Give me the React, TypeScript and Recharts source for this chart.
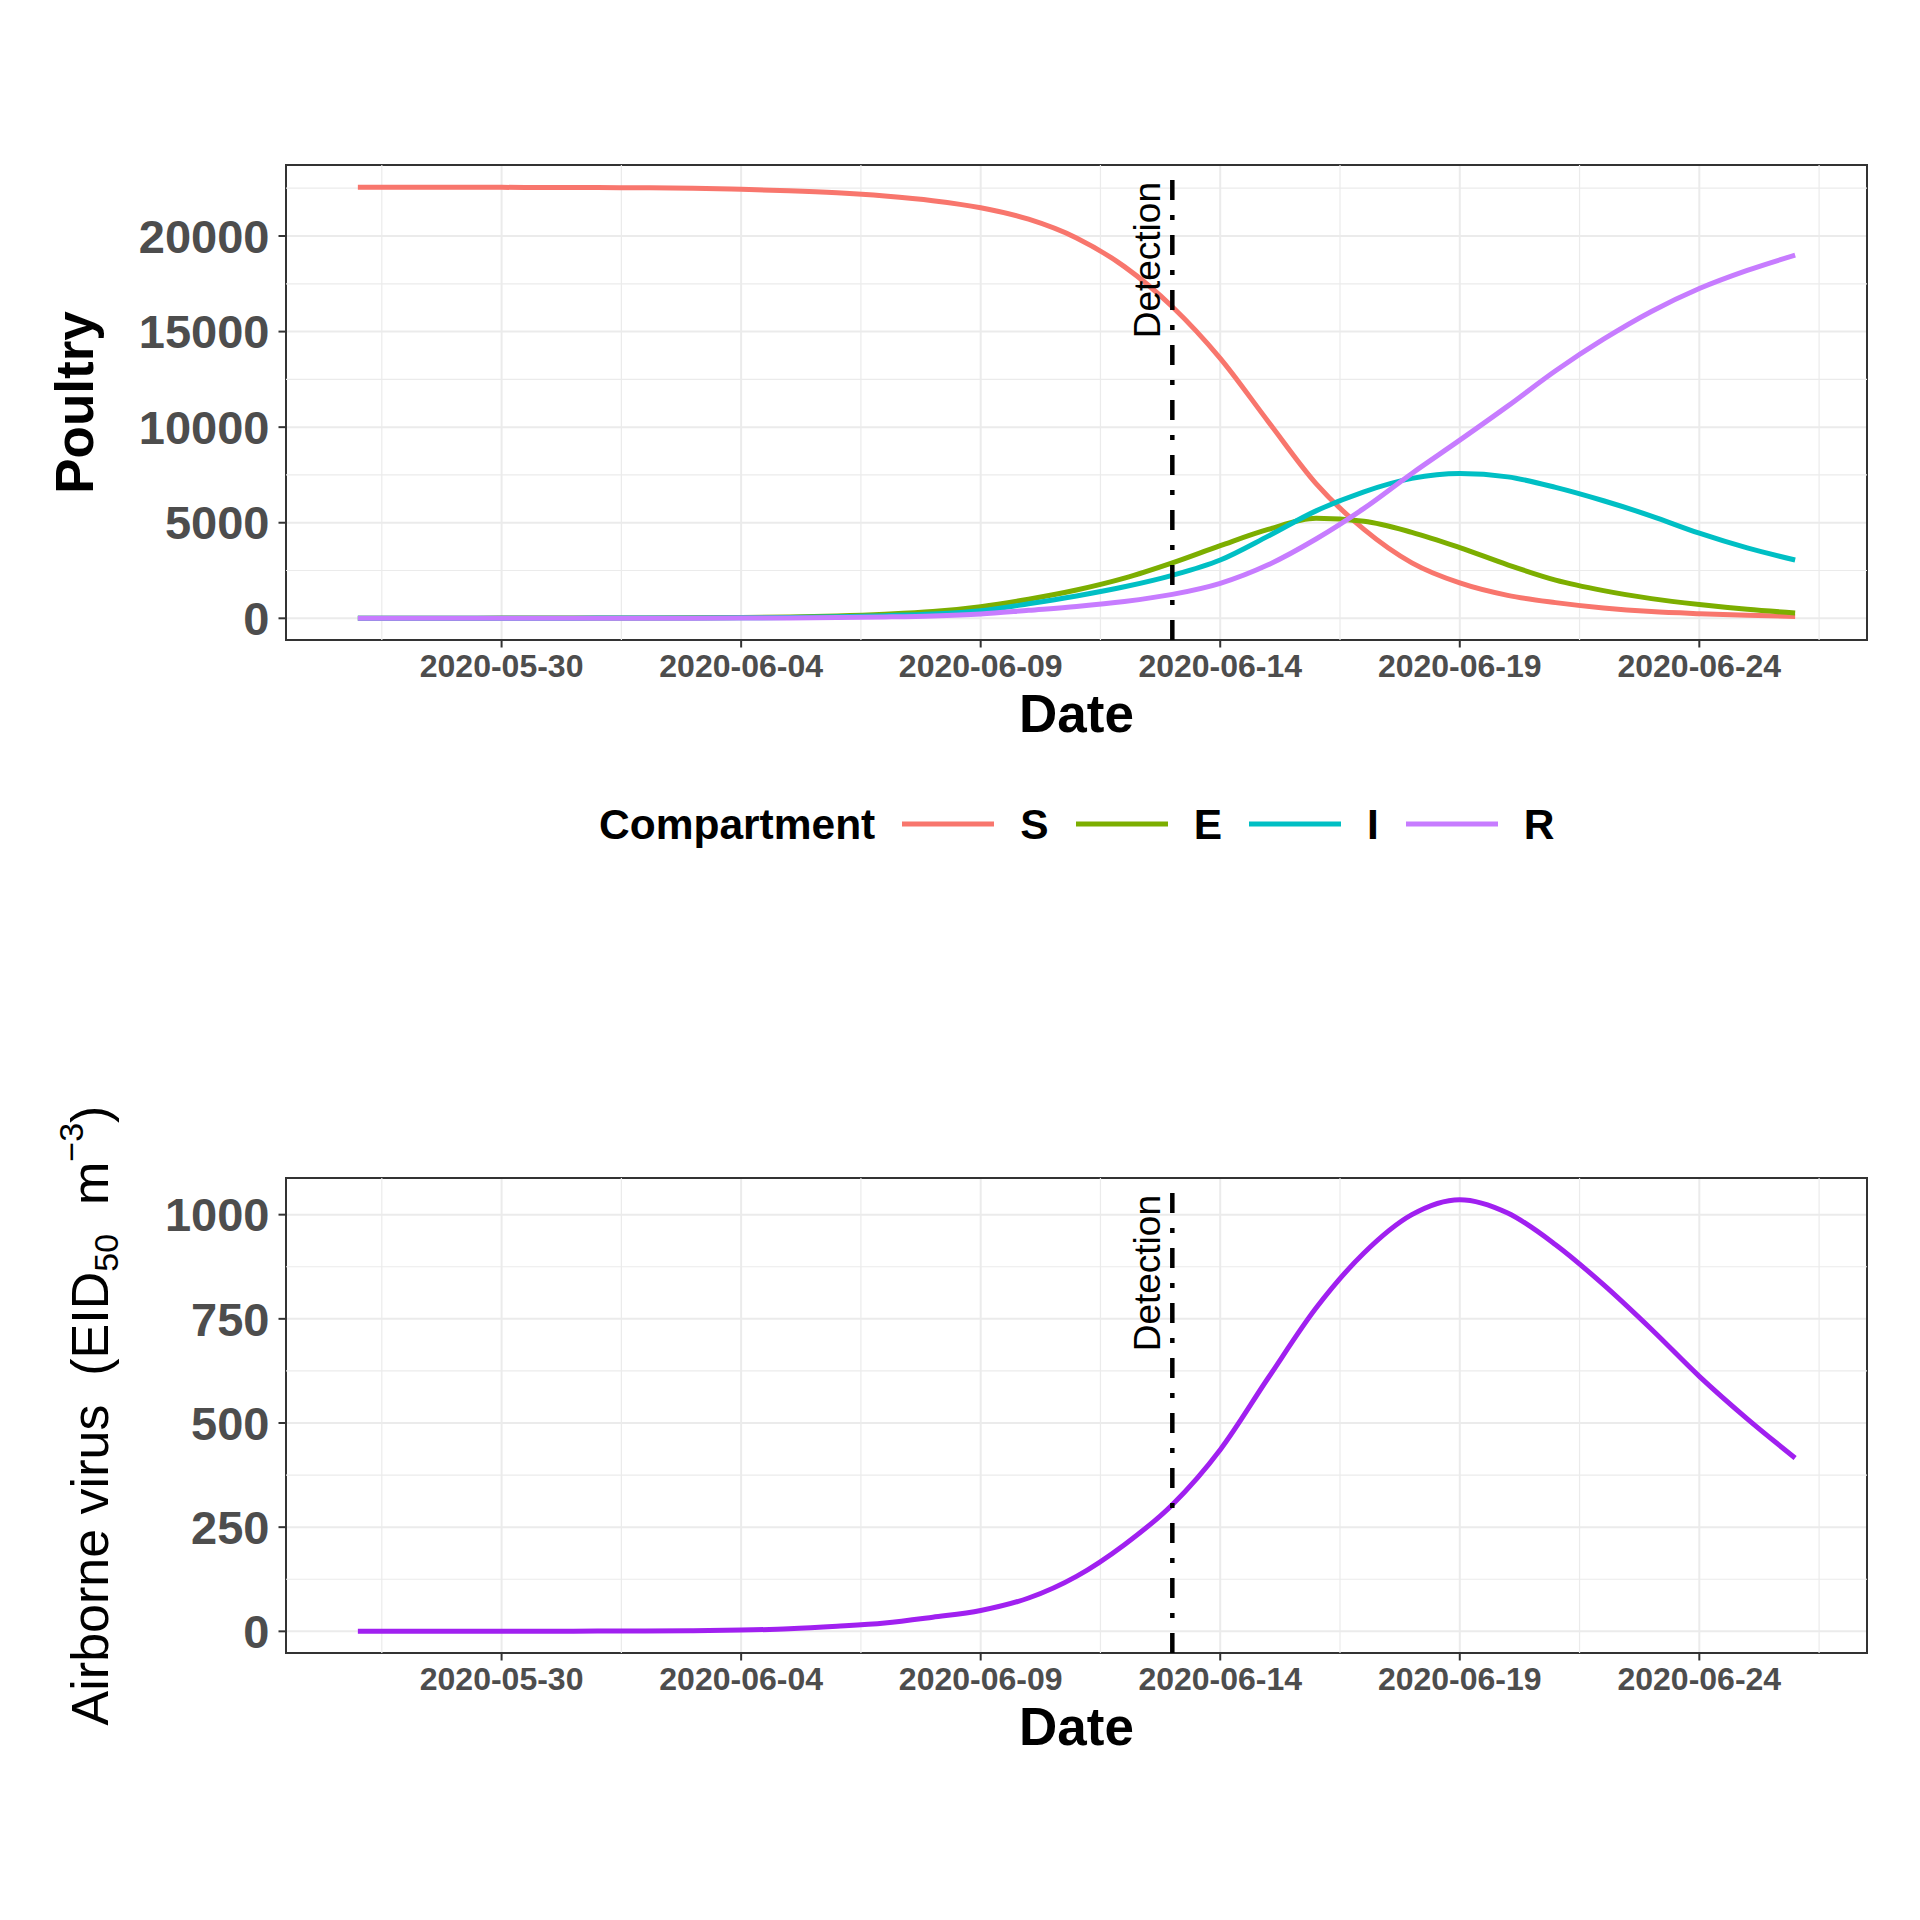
import { CartesianGrid, Line, LineChart, ReferenceArea, ReferenceLine, XAxis, YAxis } from 'recharts';

const FONT = '"Liberation Sans", Arial, Helvetica, sans-serif';

const dates = [
  '2020-05-27', '2020-05-28', '2020-05-29', '2020-05-30', '2020-05-31',
  '2020-06-01', '2020-06-02', '2020-06-03', '2020-06-04', '2020-06-05',
  '2020-06-06', '2020-06-07', '2020-06-08', '2020-06-09', '2020-06-10',
  '2020-06-11', '2020-06-12', '2020-06-13', '2020-06-14', '2020-06-15',
  '2020-06-16', '2020-06-17', '2020-06-18', '2020-06-19', '2020-06-20',
  '2020-06-21', '2020-06-22', '2020-06-23', '2020-06-24', '2020-06-25',
  '2020-06-26',
];

const susceptible = [
  22550, 22549, 22547, 22545, 22541, 22534, 22522, 22495, 22440, 22370,
  22260, 22090, 21850, 21480, 20880, 19900, 18400, 16300, 13600, 10300,
  7050, 4650, 2900, 1850, 1200, 820, 540, 350, 240, 160, 100,
];
const exposed = [
  5, 6, 8, 10, 13, 17, 22, 30, 40, 70,
  120, 210, 350, 610, 1000, 1480, 2100, 2900, 3800, 4650,
  5230, 5080, 4500, 3700, 2800, 2000, 1450, 1030, 720, 470, 280,
];
const infectious = [
  2, 3, 4, 5, 7, 10, 13, 18, 25, 45,
  80, 140, 225, 400, 760, 1170, 1650, 2250, 3050, 4300,
  5620, 6620, 7320, 7580, 7400, 6850, 6150, 5350, 4450, 3680, 3050,
];
const recovered = [
  0, 0, 1, 1, 2, 3, 4, 6, 10, 20,
  40, 70, 120, 225, 420, 620, 880, 1250, 1830, 2800,
  4150, 5750, 7580, 9320, 11100, 12950, 14600, 16050, 17250, 18200, 19000,
];
const airborneVirus = [
  0, 0, 0, 0.2, 0.4, 0.6, 1, 1.5, 3, 6,
  12, 20, 34, 50, 80, 132, 208, 304, 436, 608,
  776, 908, 1000, 1036, 1004, 928, 832, 725, 612, 510, 416,
];

const dayTicks = [3, 8, 13, 18, 23, 28];
const dayMinor = [0.5, 5.5, 10.5, 15.5, 20.5, 25.5, 30.5];
const poultryTicks = [0, 5000, 10000, 15000, 20000];
const poultryMinor = [2500, 7500, 12500, 17500, 22500];
const virusTicks = [0, 250, 500, 750, 1000];
const virusMinor = [125, 375, 625, 875];
const detectionDay = 17;

const compartments = [
  { key: 'S', color: '#F8766D' },
  { key: 'E', color: '#7CAE00' },
  { key: 'I', color: '#00BFC4' },
  { key: 'R', color: '#C77CFF' },
];

const dayDomain: [number, number] = [-1.5, 31.5];
const poultryDomain: [number, number] = [-1135, 23715];
const virusDomain: [number, number] = [-52, 1088];

const poultryData = dates.map((date, i) => ({
  day: i,
  date,
  S: susceptible[i],
  E: exposed[i],
  I: infectious[i],
  R: recovered[i],
}));

const virusData = dates.map((date, i) => ({ day: i, date, virus: airborneVirus[i] }));

function detectionLabel({ viewBox }: any) {
  const x = viewBox.x - 12.5;
  const y = viewBox.y + 17;
  return (
    <text x={x} y={y} transform={`rotate(-90 ${x} ${y})`} textAnchor="end" fontSize={37} fill="#000" fontFamily={FONT}>
      Detection
    </text>
  );
}

function dateTitle({ viewBox }: any) {
  return (
    <text x={viewBox.x + viewBox.width / 2} y={viewBox.y + 92} textAnchor="middle" fontSize={53} fontWeight={700} fill="#000" fontFamily={FONT}>
      Date
    </text>
  );
}

function poultryTitle({ viewBox }: any) {
  const x = viewBox.x + 93;
  const y = viewBox.y + viewBox.height / 2;
  return (
    <text x={x} y={y} transform={`rotate(-90 ${x} ${y})`} textAnchor="middle" fontSize={53} fontWeight={700} fill="#000" fontFamily={FONT}>
      Poultry
    </text>
  );
}

function virusTitle({ viewBox }: any) {
  const x = viewBox.x + 108;
  const y = viewBox.y + viewBox.height / 2;
  return (
    <text x={x} y={y} transform={`rotate(-90 ${x} ${y})`} textAnchor="middle" fontSize={52} fill="#000" fontFamily={FONT}>
      {'Airborne virus\u00A0\u00A0(EID'}
      <tspan fontSize={34} dy={10}>50</tspan>
      <tspan dy={-10}>{'\u00A0\u00A0m'}</tspan>
      <tspan fontSize={34} dy={-25}>{'\u22123'}</tspan>
      <tspan dy={25}>)</tspan>
    </text>
  );
}

interface PanelProps {
  data: Array<Record<string, number | string>>;
  series: Array<{ key: string; color: string }>;
  yDomain: [number, number];
  yTicks: number[];
  yMinor: number[];
  yTitle: (props: any) => JSX.Element;
}

function Panel({ data, series, yDomain, yTicks, yMinor, yTitle }: PanelProps) {
  return (
    <LineChart width={1920} height={760} data={data} margin={{ top: 165, right: 53, bottom: 0, left: 0 }}>
      <CartesianGrid stroke="#EBEBEB" strokeWidth={2} />
      {dayMinor.map((d) => (
        <ReferenceLine key={`vx${d}`} x={d} stroke="#EBEBEB" strokeWidth={1.2} />
      ))}
      {yMinor.map((v) => (
        <ReferenceLine key={`hy${v}`} y={v} stroke="#EBEBEB" strokeWidth={1.2} />
      ))}
      <XAxis
        type="number"
        dataKey="day"
        domain={dayDomain}
        allowDataOverflow
        ticks={dayTicks}
        interval={0}
        tickFormatter={(v: number) => dates[v]}
        height={120}
        axisLine={false}
        tickSize={7.5}
        tickMargin={7}
        tickLine={{ stroke: '#333333', strokeWidth: 2 }}
        tick={{ fill: '#4D4D4D', fontSize: 32, fontWeight: 700, fontFamily: FONT }}
        label={dateTitle}
      />
      <YAxis
        type="number"
        domain={yDomain}
        allowDataOverflow
        ticks={yTicks}
        interval={0}
        width={286}
        axisLine={false}
        tickSize={7.5}
        tickMargin={9}
        tickLine={{ stroke: '#333333', strokeWidth: 2 }}
        tick={{ fill: '#4D4D4D', fontSize: 47, fontWeight: 700, fontFamily: FONT }}
        label={yTitle}
      />
      {series.map((s) => (
        <Line
          key={s.key}
          type="monotone"
          dataKey={s.key}
          stroke={s.color}
          strokeWidth={5}
          dot={false}
          activeDot={false}
          isAnimationActive={false}
        />
      ))}
      <ReferenceLine
        x={detectionDay}
        stroke="#000000"
        strokeWidth={4.5}
        strokeDasharray="20 15 5 15"
        label={detectionLabel}
      />
      <ReferenceArea
        x1={dayDomain[0]}
        x2={dayDomain[1]}
        y1={yDomain[0]}
        y2={yDomain[1]}
        fill="none"
        stroke="#333333"
        strokeWidth={2}
        ifOverflow="visible"
      />
    </LineChart>
  );
}

function CompartmentLegend() {
  return (
    <div
      style={{
        position: 'absolute',
        left: 599,
        top: 801,
        height: 48,
        display: 'flex',
        alignItems: 'center',
        fontFamily: FONT,
        fontSize: 42.5,
        fontWeight: 700,
        lineHeight: '48px',
        color: '#000',
        whiteSpace: 'nowrap',
      }}
    >
      <span>Compartment</span>
      {compartments.map((c) => (
        <span key={c.key} style={{ display: 'flex', alignItems: 'center' }}>
          <svg width={92} height={48} style={{ marginLeft: 27, display: 'block' }}>
            <line x1={0} x2={92} y1={23} y2={23} stroke={c.color} strokeWidth={5} />
          </svg>
          <span style={{ marginLeft: 26 }}>{c.key}</span>
        </span>
      ))}
    </div>
  );
}

export default function App() {
  return (
    <div style={{ position: 'absolute', left: 0, top: 0, width: 1920, height: 1920, background: '#ffffff' }}>
      <div style={{ position: 'absolute', left: 0, top: 0 }}>
        <Panel
          data={poultryData}
          series={compartments}
          yDomain={poultryDomain}
          yTicks={poultryTicks}
          yMinor={poultryMinor}
          yTitle={poultryTitle}
        />
      </div>
      <CompartmentLegend />
      <div style={{ position: 'absolute', left: 0, top: 1013 }}>
        <Panel
          data={virusData}
          series={[{ key: 'virus', color: '#A020F0' }]}
          yDomain={virusDomain}
          yTicks={virusTicks}
          yMinor={virusMinor}
          yTitle={virusTitle}
        />
      </div>
    </div>
  );
}
